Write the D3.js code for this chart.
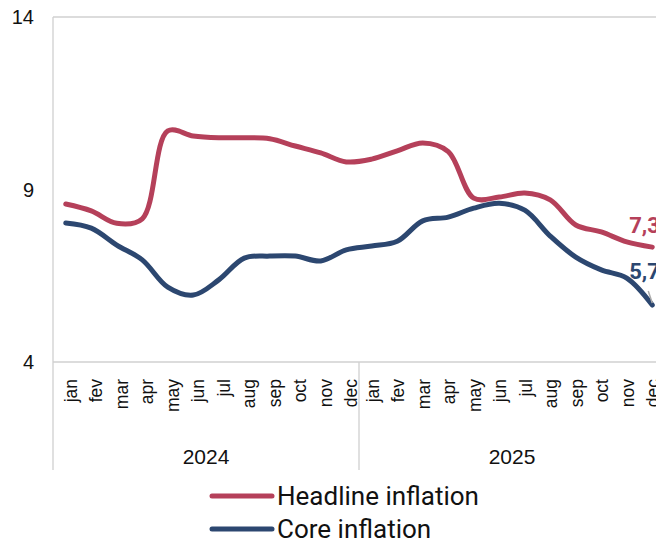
<!DOCTYPE html>
<html><head><meta charset="utf-8">
<script src="https://cdn.jsdelivr.net/npm/d3@7"></script>
<style>body{margin:0;background:#fff}svg{display:block}</style>
</head><body>
<svg id="c" width="656" height="543"></svg>
<script>
const months = ["jan","fev","mar","apr","may","jun","jul","aug","sep","oct","nov","dec"];
const years = ["2024","2025"];
const headline = [8.58,8.38,8.02,8.15,10.7,10.55,10.5,10.5,10.47,10.26,10.06,9.8,
                  9.88,10.12,10.35,10.1,8.75,8.78,8.9,8.7,7.97,7.77,7.48,7.33];
const core = [8.03,7.88,7.39,6.96,6.17,5.94,6.38,7.01,7.07,7.07,6.93,7.25,
              7.36,7.5,8.09,8.2,8.46,8.6,8.4,7.65,7.04,6.67,6.43,5.65];
const yTicks = [4,9,14];
const seriesNames = ["Headline inflation","Core inflation"];
const lastLabels = ["7,3","5,7"];
const colors = ["#b5405a","#2c4770"];

const svg = d3.select("#c");
const L = 53, T = 17, B = 362, band = 25.5, n = 24;
const keys = d3.range(n);
const x = d3.scaleBand().domain(keys).range([L, L + band*n]);
const cx = i => x(i) + x.bandwidth()/2;
const y = d3.scaleLinear().domain([4,14]).range([B, T]);
const grid = "#d0d0d0";
const sans = "Liberation Sans, Arial, sans-serif";

// frame
svg.append("line").attr("x1",L).attr("x2",700).attr("y1",T).attr("y2",T).attr("stroke",grid).attr("stroke-width",1.3);
svg.append("line").attr("x1",L).attr("x2",700).attr("y1",B).attr("y2",B).attr("stroke",grid).attr("stroke-width",1.3);
svg.append("line").attr("x1",L).attr("x2",L).attr("y1",T).attr("y2",470).attr("stroke",grid).attr("stroke-width",1.3);
svg.append("line").attr("x1",x(12)).attr("x2",x(12)).attr("y1",B).attr("y2",470).attr("stroke",grid).attr("stroke-width",1.3);

// y labels
svg.append("g").selectAll("text").data(yTicks).join("text")
  .attr("x",34).attr("y",d=>y(d)).attr("dy","0.35em").attr("text-anchor","end")
  .attr("font-family",sans).attr("font-size",20).attr("fill","#111")
  .text(d=>d);

// month labels
svg.append("g").selectAll("text").data(keys).join("text")
  .attr("transform",i=>`translate(${cx(i)+ (i<12?5:1)},${B+17}) rotate(-90)`)
  .attr("text-anchor","end").attr("dy","0.35em")
  .attr("font-family",sans).attr("font-size",17.5).attr("fill","#111")
  .text(i=>months[i%12]);

// year labels
svg.append("g").selectAll("text").data(years).join("text")
  .attr("x",(d,j)=>(x(j*12)+x(j*12+11)+band)/2).attr("y",464)
  .attr("text-anchor","middle")
  .attr("font-family",sans).attr("font-size",21).attr("fill","#111")
  .text(d=>d);

// lines
const line = d3.line().x((d,i)=>cx(i)).y(d=>y(d)).curve(d3.curveCatmullRom.alpha(0.5));
[headline, core].forEach((s,k)=>{
  svg.append("path").attr("d",line(s)).attr("fill","none").attr("stroke",colors[k])
    .attr("stroke-width",5).attr("stroke-linecap","round").attr("stroke-linejoin","round");
});

// leader line for core label
svg.append("line").attr("x1",cx(23)-4).attr("y1",y(core[23])-14).attr("x2",cx(23)).attr("y2",y(core[23])-2)
  .attr("stroke","#aaa").attr("stroke-width",1.5);

// end labels
[headline, core].forEach((s,k)=>{
  svg.append("text").attr("x",cx(23)-23).attr("y",y(s[23]) - (k===0?14:26))
    .attr("font-family","Roboto, Arial, sans-serif").attr("font-weight","bold").attr("font-size",22)
    .attr("fill",colors[k]).text(lastLabels[k]);
});

// legend
const lg = svg.append("g");
seriesNames.forEach((nm,k)=>{
  const ly = 496 + k*33;
  lg.append("line").attr("x1",212).attr("x2",272).attr("y1",ly).attr("y2",ly)
    .attr("stroke",colors[k]).attr("stroke-width",5).attr("stroke-linecap","round");
  lg.append("text").attr("x",277).attr("y",ly).attr("dy","0.36em")
    .attr("font-family","Roboto, Arial, sans-serif").attr("font-size",26).attr("fill","#111").text(nm);
});
</script>
</body></html>
